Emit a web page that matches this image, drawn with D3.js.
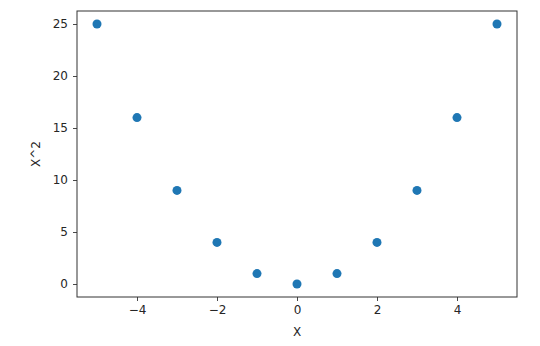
<!DOCTYPE html>
<html>
<head>
<meta charset="utf-8">
<script src="https://cdn.jsdelivr.net/npm/d3@7"></script>
<style>
  body { margin: 0; background: #fff; }
  svg text { font-family: "DejaVu Sans", sans-serif; fill: #262626; }
</style>
</head>
<body>
<div id="chart"></div>
<script>
// data
var xValues = [-5, -4, -3, -2, -1, 0, 1, 2, 3, 4, 5];
var yValues = [25, 16, 9, 4, 1, 0, 1, 4, 9, 16, 25];
var xTicks = [-4, -2, 0, 2, 4];
var yTicks = [0, 5, 10, 15, 20, 25];

var W = 540, H = 346;
var mLeft = 77, mRight = 517, mTop = 11, mBottom = 297;

var svg = d3.select("#chart").append("svg")
    .attr("width", W)
    .attr("height", H);

var x = d3.scaleLinear().domain([-5.5, 5.5]).range([mLeft, mRight]);
var y = d3.scaleLinear().domain([-1.25, 26.25]).range([mBottom, mTop]);

// axes
var xAxis = svg.append("g")
    .attr("transform", "translate(0," + mBottom + ")")
    .call(d3.axisBottom(x).tickValues(xTicks).tickSize(4).tickPadding(4)
      .tickFormat(function(d) { return d < 0 ? "\u2212" + Math.abs(d) : d; }));
var yAxis = svg.append("g")
    .attr("transform", "translate(" + mLeft + ",0)")
    .call(d3.axisLeft(y).tickValues(yTicks).tickSize(4).tickPadding(5));

[xAxis, yAxis].forEach(function(a) {
  a.select(".domain").remove();
  a.selectAll("line").attr("stroke", "#333").attr("stroke-width", 0.9);
  a.selectAll("text").attr("font-size", 12).attr("font-family", "DejaVu Sans").attr("fill", "#262626");
});

// frame
svg.append("rect")
    .attr("x", mLeft).attr("y", mTop)
    .attr("width", mRight - mLeft).attr("height", mBottom - mTop)
    .attr("fill", "none")
    .attr("stroke", "#333")
    .attr("stroke-width", 1);

// points
svg.append("g").selectAll("circle")
    .data(xValues)
  .enter().append("circle")
    .attr("cx", function(d) { return x(d); })
    .attr("cy", function(d, i) { return y(yValues[i]); })
    .attr("r", 4.5)
    .attr("fill", "#1f77b4");

// labels
svg.append("text")
    .attr("x", (mLeft + mRight) / 2)
    .attr("y", 336)
    .attr("text-anchor", "middle")
    .attr("font-size", 12)
    .text("X");

svg.append("text")
    .attr("transform", "translate(40," + (mTop + mBottom) / 2 + ") rotate(-90)")
    .attr("text-anchor", "middle")
    .attr("font-size", 12)
    .text("X^2");
</script>
</body>
</html>
